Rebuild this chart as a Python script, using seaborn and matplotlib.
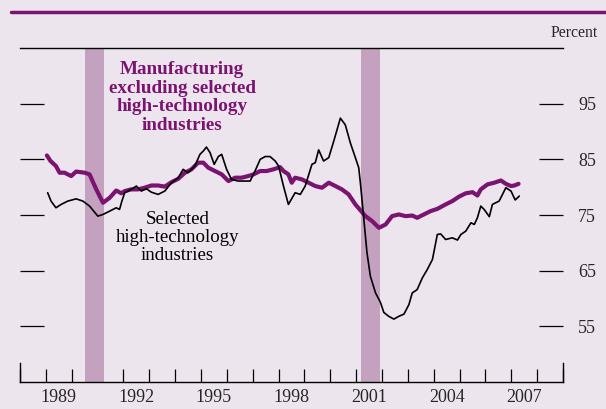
import matplotlib
matplotlib.use("Agg")
import matplotlib.pyplot as plt
from matplotlib.lines import Line2D
import pandas as pd
import seaborn as sns

# readings, decimal years and percent
mfg_years = [1989.04, 1989.18, 1989.39, 1989.53, 1989.72, 1989.98, 1990.17, 1990.50,
             1990.69, 1990.95, 1991.21, 1991.47, 1991.72, 1991.92, 1992.05, 1992.30,
             1992.56, 1992.82, 1993.08, 1993.34, 1993.60, 1993.86, 1994.12, 1994.38,
             1994.63, 1994.89, 1995.09, 1995.28, 1995.54, 1995.80, 1996.06, 1996.32,
             1996.57, 1996.83, 1997.03, 1997.29, 1997.54, 1997.80, 1998.06, 1998.19,
             1998.38, 1998.51, 1998.64, 1998.90, 1999.16, 1999.42, 1999.68, 1999.94,
             2000.20, 2000.45, 2000.71, 2000.97, 2001.23, 2001.36, 2001.62, 2001.88,
             2002.14, 2002.39, 2002.65, 2002.91, 2003.17, 2003.36, 2003.62, 2003.88,
             2004.14, 2004.46, 2004.72, 2004.98, 2005.24, 2005.50, 2005.69, 2005.82,
             2006.08, 2006.34, 2006.60, 2006.79, 2006.99, 2007.12, 2007.28]
mfg_util = [85.7, 84.7, 83.8, 82.6, 82.6, 82.0, 82.8, 82.6,
            82.3, 79.6, 77.2, 78.1, 79.4, 78.9, 79.3, 79.6,
            79.6, 79.9, 80.3, 80.3, 80.1, 80.9, 81.5, 82.6,
            83.2, 84.4, 84.4, 83.5, 82.9, 82.3, 81.1, 81.7,
            81.7, 82.0, 82.3, 82.9, 82.9, 83.2, 83.6, 82.9,
            82.3, 80.8, 81.7, 81.4, 80.8, 80.2, 79.9, 80.8,
            80.2, 79.6, 78.7, 76.9, 75.5, 74.8, 73.9, 72.7,
            73.3, 74.8, 75.1, 74.8, 74.9, 74.5, 75.1, 75.7,
            76.1, 76.9, 77.5, 78.3, 78.9, 79.1, 78.5, 79.6,
            80.5, 80.8, 81.2, 80.6, 80.2, 80.3, 80.6]

hitech_years = [1989.07, 1989.20, 1989.39, 1989.59, 1989.85, 1990.17, 1990.43, 1990.69,
                1991.01, 1991.21, 1991.47, 1991.72, 1991.85, 1991.94, 1992.05, 1992.30,
                1992.50, 1992.69, 1992.89, 1993.08, 1993.34, 1993.60, 1993.86, 1994.12,
                1994.31, 1994.50, 1994.76, 1994.96, 1995.09, 1995.21, 1995.35, 1995.51,
                1995.67, 1995.80, 1995.99, 1996.18, 1996.44, 1996.70, 1996.90, 1997.09,
                1997.29, 1997.48, 1997.67, 1997.87, 1998.00, 1998.19, 1998.38, 1998.64,
                1998.84, 1999.03, 1999.29, 1999.42, 1999.55, 1999.74, 1999.94, 2000.13,
                2000.39, 2000.58, 2000.78, 2000.97, 2001.10, 2001.17, 2001.29, 2001.42,
                2001.55, 2001.75, 2001.94, 2002.07, 2002.26, 2002.46, 2002.65, 2002.85,
                2003.04, 2003.17, 2003.36, 2003.56, 2003.75, 2003.95, 2004.14, 2004.27,
                2004.46, 2004.72, 2004.92, 2005.05, 2005.24, 2005.44, 2005.57, 2005.69,
                2005.82, 2005.95, 2006.15, 2006.27, 2006.53, 2006.66, 2006.79, 2006.99,
                2007.15, 2007.31]
hitech_util = [79.0, 77.5, 76.3, 76.9, 77.5, 77.9, 77.5, 76.6,
               74.8, 75.1, 75.7, 76.3, 76.0, 77.5, 79.0, 79.6,
               80.2, 79.3, 79.7, 79.1, 78.7, 79.3, 80.8, 81.7,
               83.2, 82.6, 83.8, 85.9, 86.5, 87.2, 86.2, 84.1,
               85.5, 85.9, 83.2, 81.4, 81.1, 81.1, 81.1, 82.9,
               85.0, 85.5, 85.5, 84.7, 83.8, 80.2, 76.9, 79.0,
               78.7, 80.2, 84.1, 84.4, 86.7, 84.7, 85.3, 88.2,
               92.4, 91.2, 87.9, 85.3, 83.5, 80.5, 74.6, 68.2,
               64.0, 61.0, 59.3, 57.5, 56.8, 56.3, 56.8, 57.2,
               58.9, 61.0, 61.6, 63.7, 65.2, 67.0, 71.5, 71.6,
               70.6, 70.9, 70.5, 71.5, 72.1, 73.6, 73.3, 74.5,
               76.6, 76.0, 74.7, 76.9, 77.5, 78.7, 79.9, 79.3,
               77.7, 78.4]

recessions = [(1990.5, 1991.25), (2001.17, 2001.92)]
year_labels = [1989, 1992, 1995, 1998, 2001, 2004, 2007]
pct_ticks = [55, 65, 75, 85, 95]

BG = "#ede5ed"
PURPLE = "#7b1470"
SHADE = "#c4a1bf"

sns.set_style("ticks")
plt.rcParams["font.family"] = ["Liberation Serif", "DejaVu Serif"]

fig = plt.figure(figsize=(6.06, 4.09), dpi=100, facecolor=BG)
ax = fig.add_axes([20 / 606, 27 / 409, 543 / 606, 334 / 409])
ax.set_facecolor(BG)

for a, b in recessions:
    ax.axvspan(a, b, color=SHADE, lw=0, zorder=1)

mfg = pd.DataFrame({"year": mfg_years, "util": mfg_util})
hitech = pd.DataFrame({"year": hitech_years, "util": hitech_util})
sns.lineplot(data=mfg, x="year", y="util", color=PURPLE, lw=3, ax=ax, zorder=3)
sns.lineplot(data=hitech, x="year", y="util", color="black", lw=1.2, ax=ax, zorder=4)

ax.set_xlim(1988, 2009)
ax.set_ylim(45, 105)
ax.set_xlabel("")
ax.set_ylabel("")

for side in ["top", "bottom", "left", "right"]:
    ax.spines[side].set_color("black")
    ax.spines[side].set_linewidth(1)
ax.spines["left"].set_bounds(45, 48.4)
ax.spines["right"].set_bounds(45, 48.4)

ax.set_yticks(pct_ticks)
ax.tick_params(axis="y", direction="in", length=17.5, width=0.9, color="black",
               left=True, right=True, labelleft=False, labelright=True,
               pad=11, labelsize=13)

ax.set_xticks(range(1988, 2010))
ax.set_xticklabels([])
ax.set_xticks([y + 0.5 for y in year_labels], minor=True)
ax.set_xticklabels([str(y) for y in year_labels], minor=True)
ax.tick_params(axis="x", which="major", direction="in", length=9.5, width=0.9,
               color="black", top=False)
ax.tick_params(axis="x", which="minor", length=0, pad=5, labelsize=13)

ax.text(1994.27, 96.1, "Manufacturing\nexcluding selected\nhigh-technology\nindustries",
        ha="center", va="center", fontsize=13.8, fontweight="bold", color=PURPLE,
        linespacing=1.12, zorder=5)
ax.text(1994.08, 71.0, "Selected\nhigh-technology\nindustries",
        ha="center", va="center", fontsize=13.6, color="black",
        linespacing=1.08, zorder=5)

fig.add_artist(Line2D([11 / 606, 1], [1 - 12 / 409, 1 - 12 / 409],
                      transform=fig.transFigure, color=PURPLE, lw=2.5))
fig.text(598 / 606, 1 - 33 / 409, "Percent", ha="right", va="center", fontsize=11.3)

fig.savefig("out.png", dpi=100, facecolor=BG)
